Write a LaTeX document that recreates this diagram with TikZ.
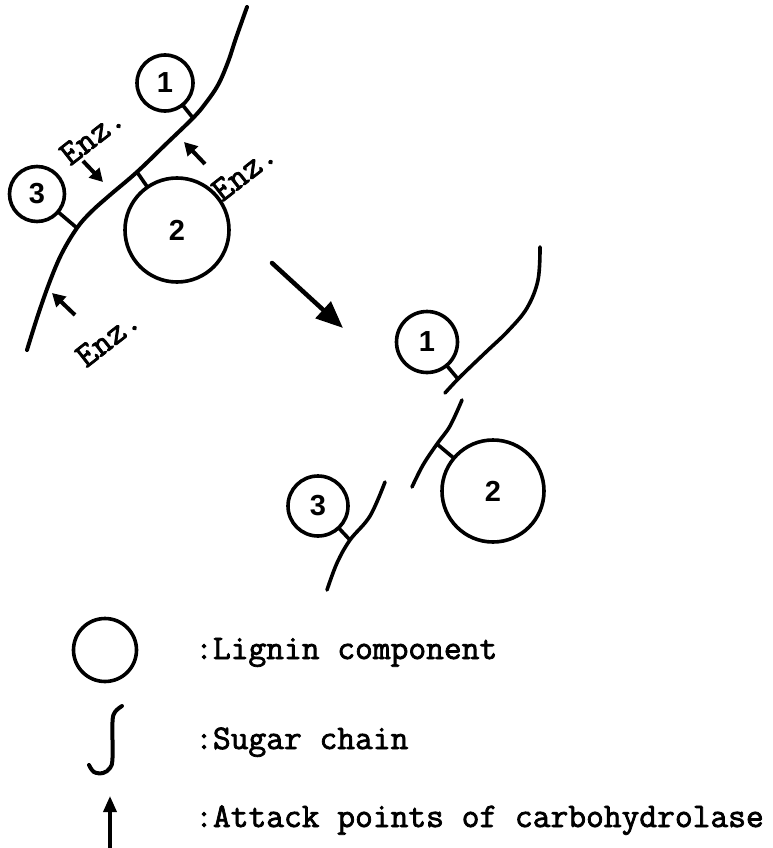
\documentclass[tikz,border=0pt]{standalone}
\usepackage{fontspec}
\usetikzlibrary{arrows.meta}
\newfontfamily\numfont{Liberation Sans}
\newfontfamily\twfont[FakeBold=2.2]{Latin Modern Mono}
\begin{document}
\begin{tikzpicture}[x=1pt,y=-1pt,
  lig/.style={circle,draw,line width=3.6pt,inner sep=0pt,outer sep=0pt,
    font=\numfont\bfseries\fontsize{29}{29}\selectfont},
  chain/.style={line width=4pt,line cap=round},
  link/.style={line width=3.6pt},
  enzarrow/.style={line width=4pt,-{Triangle[length=13pt,width=14pt]}},
  bigarrow/.style={line width=4.5pt,line cap=round,-{Triangle[length=27pt,width=22pt]}},
  legarrow/.style={line width=3.5pt,-{Triangle[length=16pt,width=13pt]}},
  enz/.style={font=\twfont\fontsize{35}{35}\selectfont,rotate=38,inner sep=0pt},
  legtext/.style={font=\twfont\fontsize{34.5}{34.5}\selectfont,anchor=base west,inner sep=0pt}]
\useasboundingbox (0,0) rectangle (772,848);

% ---------- left: intact chain ----------
\draw[chain] plot[smooth,tension=0.6] coordinates {(247,7) (236,38) (228,62) (218,85) (205,104) (193,118) (165,145) (137,172) (110,195) (91,212) (77,228) (62,253) (50,281) (38,315) (27,350)};
\coordinate (j1) at (193,118);
\coordinate (j2) at (137,172);
\coordinate (j3) at (77,228);
\node[lig,minimum size=56pt] (c1) at (165,83) {1};
\node[lig,minimum size=104pt] (c2) at (177,230) {2};
\node[lig,minimum size=55pt] (c3) at (37,194) {3};
\draw[link] (c1) -- (j1);
\draw[link] (c2) -- (j2);
\draw[link] (c3) -- (j3);

% enzyme attack arrows
\coordinate (a1s) at (83,161); \coordinate (a1e) at (103,182);
\coordinate (a2s) at (205,164); \coordinate (a2e) at (184,142);
\coordinate (a3s) at (75,315); \coordinate (a3e) at (52,293);
\draw[enzarrow] (a1s) -- (a1e);
\draw[enzarrow] (a2s) -- (a2e);
\draw[enzarrow] (a3s) -- (a3e);
\node[enz] (e1) at (92,136) {Enz.};
\node[enz] (e2) at (244,172) {Enz.};
\node[enz] (e3) at (108,338) {Enz.};

% reaction arrow
\coordinate (rs) at (272,263); \coordinate (re) at (343,328);
\draw[bigarrow] (rs) -- (re);

% ---------- right: fragments ----------
\draw[chain,line width=3.6pt] plot[smooth,tension=0.6] coordinates {(540,247) (538,280) (527,308) (508,331) (486,352) (460,377) (445,393)};
\draw[chain,line width=3.6pt] plot[smooth,tension=0.6] coordinates {(462,400) (450,426) (437,444) (423,465) (412,487)};
\draw[chain,line width=3.6pt] plot[smooth,tension=0.6] coordinates {(385,482) (370,516) (350,540) (337,563) (327,590)};
\coordinate (k1) at (458,379);
\coordinate (k2) at (437,444);
\coordinate (k3) at (350,540);
\node[lig,minimum size=61pt] (d1) at (427,342) {1};
\node[lig,minimum size=102pt] (d2) at (493,491) {2};
\node[lig,minimum size=60pt] (d3) at (318,506) {3};
\draw[link] (d1) -- (k1);
\draw[link] (d2) -- (k2);
\draw[link] (d3) -- (k3);

% ---------- legend ----------
\node[circle,draw,line width=3.6pt,minimum size=63pt,inner sep=0pt] (lc) at (105,650) {};
\node[legtext] (l1) at (195,659) {:Lignin component};
\draw[line width=4pt,line cap=round] plot[smooth,tension=0.6] coordinates {(122,706) (115,712) (112.5,722) (112.5,758) (110,768) (103,773) (94,772) (89,765)};
\node[legtext] (l2) at (195,749) {:Sugar chain};
\coordinate (las) at (110,848); \coordinate (lae) at (110,796);
\draw[legarrow] (las) -- (lae);
\node[legtext] (l3) at (195,827) {:Attack points of carbohydrolase};
\end{tikzpicture}
\end{document}
